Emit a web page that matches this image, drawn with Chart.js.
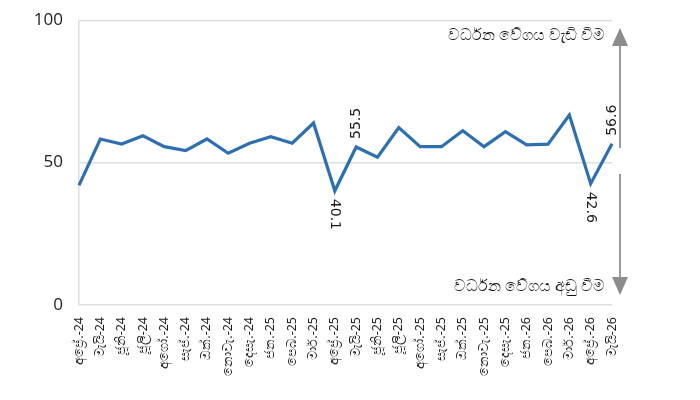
<!DOCTYPE html>
<html>
<head>
<meta charset="utf-8">
<script src="https://cdn.jsdelivr.net/npm/chart.js@4.4.1/dist/chart.umd.min.js"></script>
<style>
  body { margin: 0; background: #fff; }
</style>
</head>
<body>
<canvas id="myChart" width="700" height="400"></canvas>
<script>
// months Apr 2024 - May 2026
const months = ['අප්‍රේ.-24', 'මැයි-24', 'ජූනි-24', 'ජූලි-24', 'අගෝ.-24', 'සැප්.-24', 'ඔක්.-24', 'නොවැ.-24', 'දෙසැ.-24',
  'ජන.-25', 'පෙබ.-25', 'මාර්.-25', 'අප්‍රේ.-25', 'මැයි-25', 'ජූනි-25', 'ජූලි-25', 'අගෝ.-25', 'සැප්.-25', 'ඔක්.-25',
  'නොවැ.-25', 'දෙසැ.-25', 'ජන.-26', 'පෙබ.-26', 'මාර්.-26', 'අප්‍රේ.-26', 'මැයි-26'];

const values = [42.0, 58.3, 56.5, 59.4, 55.6, 54.2, 58.3, 53.3, 56.8, 59.1, 56.8, 63.9, 40.1,
  55.5, 51.9, 62.3, 55.6, 55.6, 61.2, 55.6, 60.9, 56.2, 56.5, 66.7, 42.6, 56.6];

const yTicks = [0, 50, 100];

// index of points that get a label, and whether text goes up or down
const labelled = [12, 13, 24, 25];
const labelDown = [true, false, true, false];

const upText = 'වර්ධන වේගය වැඩි වීම';
const downText = 'වර්ධන වේගය අඩු වීම';

const annots = {
  id: 'annots',
  afterDatasetsDraw(chart) {
    const c = chart.ctx;
    const xs = chart.scales.x, ys = chart.scales.y;
    c.save();
    c.fillStyle = '#1a1a1a';
    c.font = '14px "DejaVu Sans", sans-serif';
    labelled.forEach((i, k) => {
      const px = xs.getPixelForValue(i);
      const py = ys.getPixelForValue(values[i]);
      c.save();
      c.translate(px, py);
      c.textBaseline = 'middle';
      c.textAlign = 'left';
      c.rotate(labelDown[k] ? Math.PI / 2 : -Math.PI / 2);
      c.fillText(values[i].toFixed(1), 8, 0);
      c.restore();
    });

    // growth arrows on the right
    const ax = 620;
    c.strokeStyle = '#9a9a9a';
    c.fillStyle = '#8c8c8c';
    c.lineWidth = 2;
    c.beginPath();
    c.moveTo(ax, 44); c.lineTo(ax, 148);
    c.moveTo(ax, 174); c.lineTo(ax, 278);
    c.stroke();
    c.beginPath();
    c.moveTo(ax, 28); c.lineTo(ax - 8, 46); c.lineTo(ax + 8, 46); c.closePath();
    c.moveTo(ax, 295); c.lineTo(ax - 8, 277); c.lineTo(ax + 8, 277); c.closePath();
    c.fill();

    c.fillStyle = '#111';
    c.font = '16px "Noto Sans", "DejaVu Sans", sans-serif';
    c.textAlign = 'right';
    c.textBaseline = 'middle';
    c.fillText(upText, 605, 35);
    c.fillText(downText, 605, 286);
    c.restore();
  }
};

new Chart(document.getElementById('myChart'), {
  type: 'line',
  data: {
    labels: months,
    datasets: [{
      data: values,
      borderColor: '#2e6fb0',
      borderWidth: 3.2,
      pointRadius: 0,
      tension: 0,
      borderJoinStyle: 'miter'
    }]
  },
  options: {
    responsive: false,
    animation: false,
    devicePixelRatio: 1,
    layout: { padding: { left: 0, right: 88, top: 19, bottom: 0 } },
    plugins: { legend: { display: false }, tooltip: { enabled: false } },
    scales: {
      x: {
        offset: false,
        grid: { display: false },
        border: { display: false },
        ticks: {
          autoSkip: false,
          minRotation: 90,
          maxRotation: 90,
          padding: 4,
          color: '#222',
          font: { size: 12.5, family: '"Noto Sans", "DejaVu Sans", sans-serif' }
        },
        afterFit(s) { s.height = 95; }
      },
      y: {
        min: 0,
        max: 100,
        afterBuildTicks(s) { s.ticks = yTicks.map(v => ({ value: v })); },
        grid: { color: '#dedede', lineWidth: 1.5, drawTicks: false },
        border: { color: '#dedede', width: 1.5 },
        ticks: {
          padding: 16,
          color: '#222',
          font: { size: 17, lineHeight: 0.5, family: '"Open Sans", "DejaVu Sans", sans-serif' }
        },
        afterFit(s) { s.width = 79; }
      }
    }
  },
  plugins: [annots]
});
</script>
</body>
</html>
